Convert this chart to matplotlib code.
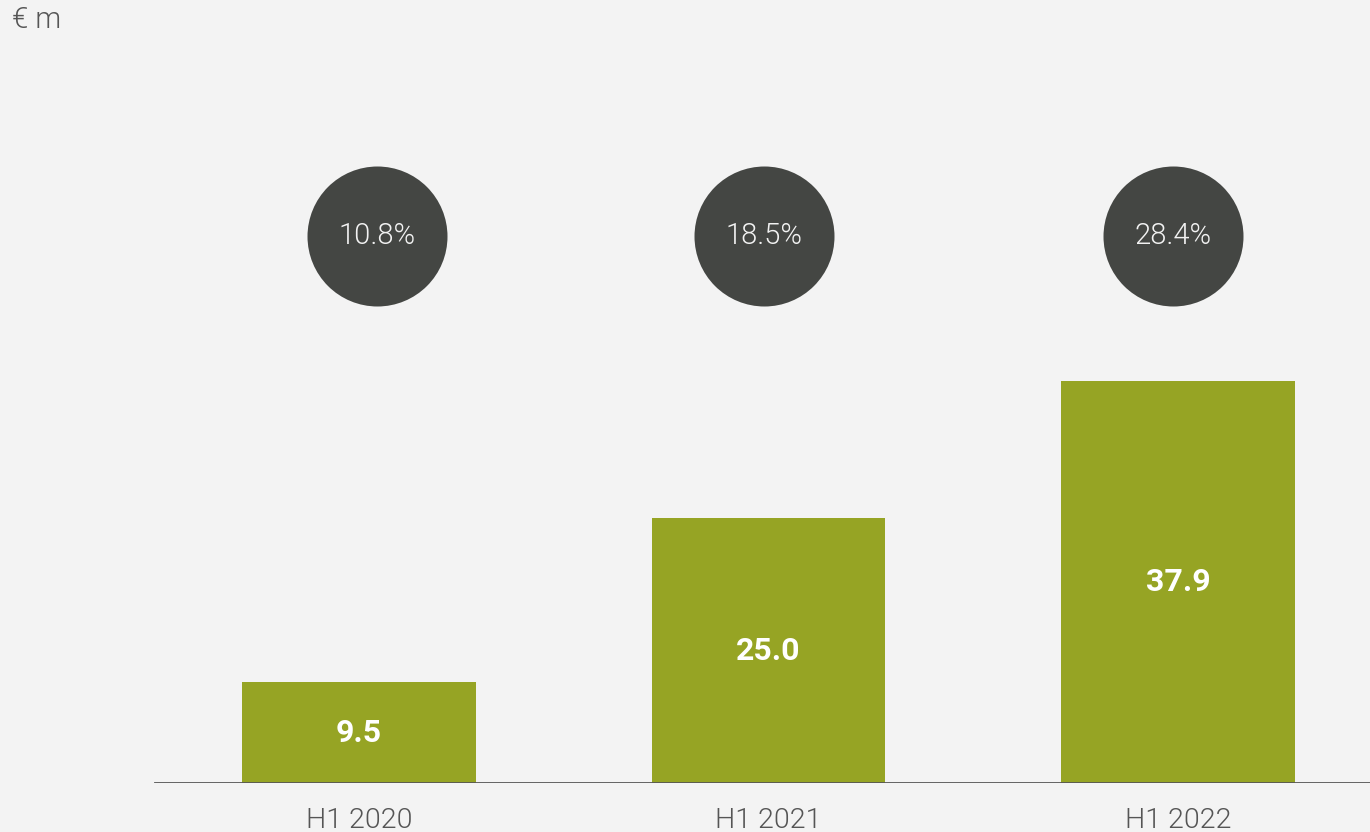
import matplotlib
matplotlib.use('agg')
import matplotlib.pyplot as plt

# DATA ###############################################################

periods = ['H1 2020', 'H1 2021', 'H1 2022']
values = [9.5, 25.0, 37.9]
margins = ['10.8%', '18.5%', '28.4%']

BG = '#f3f3f3'
BAR = '#96a424'
DARK = '#444643'
GREY = '#555555'
LIGHT = 300

plt.rcParams['font.family'] = ['Roboto', 'DejaVu Sans']

# PLOT ###############################################################

fig = plt.figure(figsize=(13.7, 8.32), dpi=100, facecolor=BG)
ax = fig.add_axes([0, 49 / 832, 1, 783 / 832])
ax.set_facecolor(BG)

x = list(range(len(periods)))
ax.bar(x, values, width=0.571, color=BAR, zorder=2)

# axes so that bar centres land at 359/769/1178 px
ax.set_xlim(-359 / 409.5, (1370 - 359) / 409.5)
ax.set_ylim(0, 783 / 10.6)

ax.axhline(0, xmin=155 / 1370, xmax=1, color=GREY, lw=2, zorder=3)

for xi, v in zip(x, values):
    ax.text(xi, v / 2, '{:.1f}'.format(v), ha='center', va='center',
            color='white', fontsize=23, fontweight='bold', zorder=4)

# margin bubbles (slightly off bar centre in the original)
bubble_dx = [0.044, -0.012, -0.012]
bubble_y = 547 / 10.6
for xi, dx, m in zip(x, bubble_dx, margins):
    ax.scatter(xi + dx, bubble_y, s=(140 * 72 / 100) ** 2,
               color=DARK, zorder=3, linewidths=0)
    ax.text(xi + dx, bubble_y, m, ha='center', va='center', color='#f2f2f2',
            fontsize=21, fontweight=LIGHT, zorder=4)

ax.set_xticks(x)
ax.set_xticklabels(periods, fontsize=20.5, color=GREY, fontweight=LIGHT)
ax.tick_params(axis='x', length=0, pad=17)
ax.set_yticks([])
for s in ax.spines.values():
    s.set_visible(False)

fig.text(12 / 1370, 1 - 20 / 832, '€ m', ha='left', va='center',
         fontsize=21, color=GREY, fontweight=LIGHT)

fig.savefig('out.png', dpi=100, facecolor=BG)
